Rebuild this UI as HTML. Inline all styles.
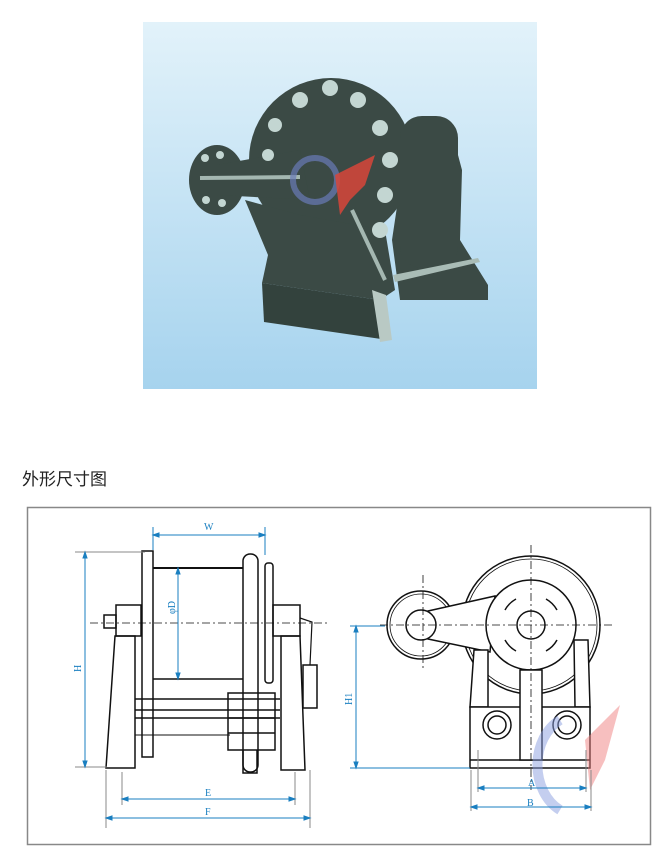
<!DOCTYPE html>
<html><head><meta charset="utf-8"><style>
html,body{margin:0;padding:0;background:#fff;width:668px;height:858px;overflow:hidden}
</style></head><body>
<svg width="668" height="858" viewBox="0 0 668 858" xmlns="http://www.w3.org/2000/svg" font-family="Liberation Serif, serif">
<defs>
<linearGradient id="bg" x1="0" y1="0" x2="0" y2="1">
<stop offset="0" stop-color="#e2f2fa"/><stop offset="1" stop-color="#a6d3ee"/></linearGradient>
</defs>
<rect x="143" y="22" width="394" height="367" fill="url(#bg)"/>
<g fill="#3b4a45">
<polygon points="410,120 450,125 462,170 460,240 488,285 488,300 400,300 392,240"/>
<circle cx="331" cy="160" r="82"/>
<rect x="400" y="116" width="58" height="152" rx="22"/>
<polygon points="245,200 300,215 385,230 395,290 380,300 262,283 268,255"/>
<ellipse cx="217" cy="180" rx="28" ry="35"/>
<polygon points="217,165 300,150 310,200 217,195"/>
</g>
<polygon points="262,283 380,300 388,340 264,322" fill="#33423d"/>
<polygon points="372,290 386,295 392,340 380,342" fill="#b9c9c4"/>
<polygon points="393,275 478,258 480,262 395,282" fill="#a9bcb6"/>
<line x1="200" y1="178" x2="300" y2="177" stroke="#a4b7b1" stroke-width="4"/>
<line x1="352" y1="210" x2="385" y2="280" stroke="#a4b7b1" stroke-width="4"/>
<g fill="#c3d6d2">
<circle cx="300" cy="100" r="8"/><circle cx="330" cy="88" r="8"/><circle cx="358" cy="100" r="8"/>
<circle cx="275" cy="125" r="7"/><circle cx="380" cy="128" r="8"/><circle cx="268" cy="155" r="6"/>
<circle cx="390" cy="160" r="8"/><circle cx="385" cy="195" r="8"/><circle cx="380" cy="230" r="8"/>
<circle cx="205" cy="158" r="4"/><circle cx="220" cy="155" r="4"/><circle cx="206" cy="200" r="4"/><circle cx="222" cy="203" r="4"/>
</g>
<circle cx="315" cy="180" r="22" fill="none" stroke="#6a7ab8" stroke-width="6" opacity=".7"/>
<polygon points="335,175 375,155 365,185 350,200 340,215" fill="#d8453a" opacity=".85"/>
<text x="22" y="485" font-family="Liberation Sans, Noto Sans CJK SC, sans-serif" font-size="17" fill="#222">外形尺寸图</text>
<rect x="27.5" y="507.5" width="623" height="337" fill="none" stroke="#888" stroke-width="1.5"/>
<g stroke="#111" stroke-width="1.5" fill="none">
<rect x="142" y="551" width="11" height="206"/>
<line x1="153" y1="568" x2="243" y2="568" stroke-width="2"/>
<line x1="153" y1="679" x2="243" y2="679"/>
<rect x="243" y="554" width="15" height="218" rx="7"/>
<rect x="265" y="563" width="8" height="120" rx="3"/>
<rect x="116" y="605" width="25" height="31"/>
<rect x="104" y="615" width="12" height="13"/>
<polygon points="115,636 135,636 135,768 106,768"/>
<rect x="273" y="605" width="27" height="31"/>
<polygon points="281,636 300,636 305,770 281,770"/>
<line x1="135" y1="699" x2="280" y2="699"/><line x1="135" y1="710" x2="280" y2="710"/><line x1="135" y1="718" x2="280" y2="718"/>
<line x1="135" y1="735" x2="230" y2="735" stroke-width="1"/>
<rect x="228" y="693" width="47" height="57"/>
<line x1="228" y1="718" x2="275" y2="718"/><line x1="228" y1="733" x2="275" y2="733"/>
<polyline points="243,750 243,773 257,773 257,750"/>
<rect x="303" y="665" width="14" height="43"/>
<polyline points="300,618 312,622 310,665" stroke-width="1.2"/>
</g>
<g stroke="#111" stroke-width="0.8" stroke-dasharray="8,3,2,3">
<line x1="90" y1="623" x2="330" y2="623"/>
</g>
<g stroke="#1a7fc0" stroke-width="1" fill="#1a7fc0">
<line x1="153" y1="527" x2="153" y2="550"/><line x1="265" y1="527" x2="265" y2="555"/>
<line x1="157" y1="535" x2="261" y2="535"/>
<line x1="75" y1="552" x2="145" y2="552" stroke="#888"/><line x1="75" y1="767" x2="107" y2="767" stroke="#888"/>
<line x1="85" y1="556" x2="85" y2="763"/>
<line x1="178" y1="572" x2="178" y2="675"/>
<line x1="122" y1="772" x2="122" y2="805" stroke="#888"/><line x1="295" y1="772" x2="295" y2="805" stroke="#888"/>
<line x1="106" y1="770" x2="106" y2="828" stroke="#888"/><line x1="310" y1="770" x2="310" y2="828" stroke="#888"/>
<line x1="126" y1="799" x2="291" y2="799"/>
<line x1="110" y1="818" x2="306" y2="818"/>
<polygon points="153,535 159,533 159,537"/><polygon points="265,535 259,533 259,537"/>
<polygon points="85,552 83,558 87,558"/><polygon points="85,767 83,761 87,761"/>
<polygon points="178,568 176,574 180,574"/><polygon points="178,679 176,673 180,673"/>
<polygon points="122,799 128,797 128,801"/><polygon points="295,799 289,797 289,801"/>
<polygon points="106,818 112,816 112,820"/><polygon points="310,818 304,816 304,820"/>
</g>
<g fill="#1a7fc0" font-size="10">
<text x="204" y="530">W</text>
<text x="205" y="796">E</text>
<text x="205" y="815">F</text>
<text transform="translate(81,672) rotate(-90)">H</text>
<text transform="translate(175,614) rotate(-90)">φD</text>
</g>
<g stroke="#111" stroke-width="1.5" fill="#fff">
<circle cx="531" cy="625" r="69"/>
<circle cx="531" cy="625" r="66" stroke-width="0.8"/>
<circle cx="421" cy="625" r="34"/>
<circle cx="421" cy="625" r="31" stroke-width="0.8"/>
<polygon points="428,611 495,596 490,652 428,639"/>
<circle cx="421" cy="625" r="15"/>
<polygon points="474,650 488,650 488,707 470,707"/>
<polygon points="574,640 588,640 590,707 575,707"/>
<circle cx="531" cy="625" r="45"/>
<circle cx="531" cy="625" r="14"/>
<rect x="470" y="707" width="120" height="61"/>
<line x1="470" y1="760" x2="590" y2="760"/>
<rect x="520" y="670" width="22" height="90"/>
<circle cx="497" cy="725" r="14"/><circle cx="497" cy="725" r="9"/>
<circle cx="567" cy="725" r="14"/><circle cx="567" cy="725" r="9"/>
</g>
<g stroke="#111" stroke-width="1.5" fill="none">
<path d="M505,610 A28,28 0 0 1 516,599"/><path d="M546,599 A28,28 0 0 1 557,610"/>
<path d="M557,640 A28,28 0 0 1 546,651"/><path d="M516,651 A28,28 0 0 1 505,640"/>
</g>
<g stroke="#111" stroke-width="0.8" stroke-dasharray="8,3,2,3">
<line x1="380" y1="625" x2="615" y2="625"/><line x1="531" y1="545" x2="531" y2="790"/>
<line x1="423" y1="575" x2="423" y2="670"/>
</g>
<path d="M560,720 A40,50 0 0 0 560,810" stroke="#8a9de0" stroke-width="10" fill="none" opacity=".5"/>
<polygon points="585,740 620,705 605,760 590,790" fill="#f08080" opacity=".5"/>
<g stroke="#1a7fc0" stroke-width="1" fill="#1a7fc0">
<line x1="350" y1="626" x2="385" y2="626"/><line x1="350" y1="768" x2="470" y2="768"/>
<line x1="356" y1="630" x2="356" y2="764"/>
<polygon points="356,626 354,632 358,632"/><polygon points="356,768 354,762 358,762"/>
<line x1="478" y1="750" x2="478" y2="792" stroke="#888"/><line x1="586" y1="750" x2="586" y2="792" stroke="#888"/>
<line x1="471" y1="770" x2="471" y2="811" stroke="#888"/><line x1="591" y1="770" x2="591" y2="811" stroke="#888"/>
<line x1="482" y1="788" x2="582" y2="788"/><line x1="475" y1="807" x2="587" y2="807"/>
<polygon points="478,788 484,786 484,790"/><polygon points="586,788 580,786 580,790"/>
<polygon points="471,807 477,805 477,809"/><polygon points="591,807 585,805 585,809"/>
</g>
<g fill="#1a7fc0" font-size="10">
<text x="528" y="786">A</text><text x="527" y="806">B</text>
<text transform="translate(352,705) rotate(-90)">H1</text>
</g>
</svg>
</body></html>
